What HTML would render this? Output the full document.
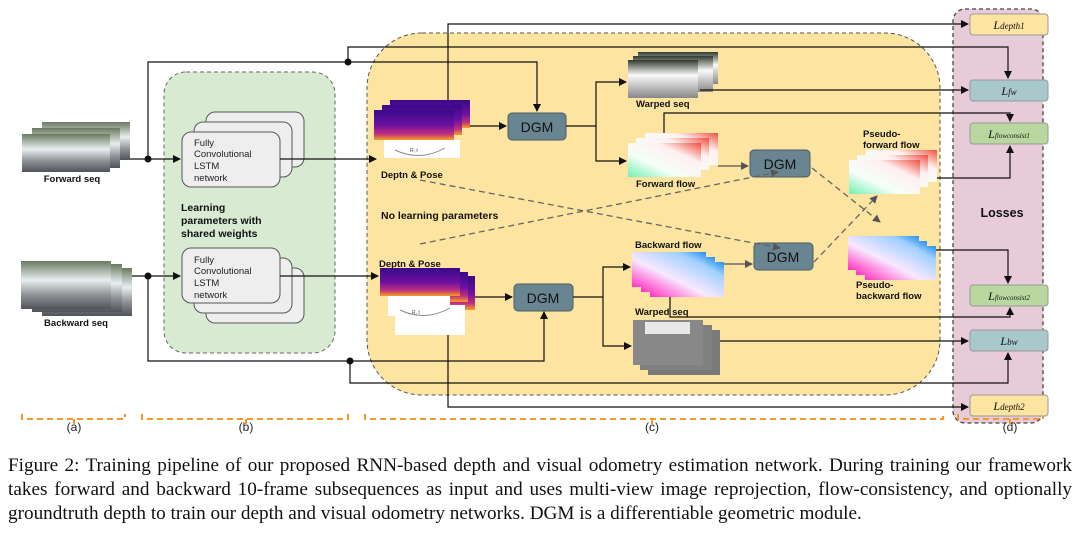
<!DOCTYPE html>
<html><head><meta charset="utf-8"><style>
body{margin:0;background:#fff;width:1080px;height:533px;overflow:hidden}
.cap{position:absolute;left:8px;width:1064px;font-family:"Liberation Serif",serif;font-size:19.2px;color:#111;white-space:nowrap;text-align:justify;text-align-last:justify;line-height:22px}
.cap.l{text-align:left;text-align-last:left}
</style></head><body>
<svg width="1080" height="440" style="position:absolute;left:0;top:0" font-family="Liberation Sans, sans-serif">
<defs>
<marker id="a" markerWidth="8" markerHeight="8" refX="7" refY="4" orient="auto" markerUnits="userSpaceOnUse"><path d="M0,0L8,4L0,8z" fill="#111"/></marker>
<marker id="g" markerWidth="8" markerHeight="8" refX="7" refY="4" orient="auto" markerUnits="userSpaceOnUse"><path d="M0,0L8,4L0,8z" fill="#555"/></marker>
<linearGradient id="dep" x1="0" y1="0" x2="0" y2="1"><stop offset="0" stop-color="#3a0a8a"/><stop offset=".5" stop-color="#6a10a0"/><stop offset=".8" stop-color="#c03080"/><stop offset="1" stop-color="#f8a020"/></linearGradient>
<linearGradient id="ff" x1="0" y1="1" x2="1" y2="0"><stop offset="0" stop-color="#70f0b0"/><stop offset=".35" stop-color="#f4fff8"/><stop offset=".7" stop-color="#fff0f0"/><stop offset="1" stop-color="#f05040"/></linearGradient>
<linearGradient id="bf" x1="0" y1="1" x2="1" y2="0"><stop offset="0" stop-color="#ff30c0"/><stop offset=".4" stop-color="#f8e8ff"/><stop offset=".8" stop-color="#a0d0ff"/><stop offset="1" stop-color="#2090f0"/></linearGradient>
<linearGradient id="rd" x1="0" y1="0" x2="0" y2="1"><stop offset="0" stop-color="#6a7a60"/><stop offset=".4" stop-color="#e8eef0"/><stop offset=".7" stop-color="#909498"/><stop offset="1" stop-color="#505458"/></linearGradient>
<linearGradient id="ws" x1="0" y1="0" x2="0" y2="1"><stop offset="0" stop-color="#303a30"/><stop offset=".4" stop-color="#fafafa"/><stop offset="1" stop-color="#888"/></linearGradient>
</defs>
<rect x="164" y="72" width="171" height="281" rx="22" fill="#d9ead3" stroke="#666" stroke-dasharray="4,3"/>
<rect x="367" y="33" width="573" height="362" rx="55" fill="#fde4a0" stroke="#555" stroke-dasharray="4,3"/>
<rect x="953" y="9" width="90" height="414" rx="12" fill="#e8cbd8" stroke="#444" stroke-dasharray="4,3" stroke-width="1.3"/>
<g stroke="#f39a2a" stroke-width="2" fill="none" stroke-dasharray="6,4">
<path d="M22,414v5h103v-5M74,419v5"/><path d="M142,414v5h206v-5M246,419v5"/><path d="M365,414v5h578v-5M652,419v5"/><path d="M958,414v5h85v-5M1010,419v5"/></g>
<g font-size="12" fill="#222" text-anchor="middle"><text x="74" y="431">(a)</text><text x="246" y="431">(b)</text><text x="652" y="431">(c)</text><text x="1010" y="431">(d)</text></g>
<g><rect x="42" y="122" width="88" height="38" fill="url(#rd)"/><rect x="32" y="128" width="88" height="40" fill="url(#rd)"/><rect x="22" y="134" width="88" height="38" fill="url(#rd)"/></g>
<g><rect x="42" y="268" width="90" height="48" fill="url(#rd)"/><rect x="32" y="264" width="90" height="48" fill="url(#rd)"/><rect x="21" y="261" width="90" height="48" fill="url(#rd)"/></g>
<g font-size="9.5" font-weight="bold" fill="#111" text-anchor="middle"><text x="72" y="182">Forward seq</text><text x="76" y="326">Backward seq</text></g>
<g fill="#eee" stroke="#555" stroke-width="1"><rect x="206" y="112" width="98" height="55" rx="9"/><rect x="194" y="122" width="98" height="55" rx="9"/><rect x="182" y="132" width="98" height="55" rx="9"/></g>
<g fill="#eee" stroke="#555" stroke-width="1"><rect x="206" y="268" width="98" height="55" rx="9"/><rect x="194" y="258" width="98" height="55" rx="9"/><rect x="182" y="248" width="98" height="55" rx="9"/></g>
<g font-size="9.5" fill="#222"><text x="194" y="146">Fully</text><text x="194" y="157">Convolutional</text><text x="194" y="169">LSTM</text><text x="194" y="181">network</text>
<text x="194" y="263">Fully</text><text x="194" y="274">Convolutional</text><text x="194" y="286">LSTM</text><text x="194" y="298">network</text></g>
<g font-size="10.5" font-weight="bold" fill="#111"><text x="181" y="211">Learning</text><text x="181" y="224">parameters with</text><text x="181" y="237">shared weights</text>
<text x="381" y="219">No learning parameters</text></g>
<g><rect x="390" y="100" width="80" height="28" fill="url(#dep)"/><rect x="382" y="105" width="80" height="30" fill="url(#dep)"/><rect x="374" y="110" width="80" height="30" fill="url(#dep)"/>
<rect x="384" y="140" width="76" height="18" fill="#fff"/><path d="M395,150q25,12 50,-2" stroke="#888" fill="none"/><text x="410" y="152" font-size="5" fill="#444">R, t</text></g>
<g><rect x="395" y="276" width="80" height="34" fill="url(#dep)"/><rect x="388" y="272" width="80" height="30" fill="url(#dep)"/><rect x="380" y="268" width="80" height="28" fill="url(#dep)"/>
<rect x="388" y="296" width="62" height="20" fill="#fff"/><rect x="395" y="305" width="70" height="30" fill="#fff"/><path d="M400,310q25,12 50,-2" stroke="#888" fill="none"/><text x="412" y="314" font-size="5" fill="#444">R, t</text></g>
<g font-size="9.5" font-weight="bold" fill="#111"><text x="381" y="178">Deptn &amp; Pose</text><text x="379" y="267">Deptn &amp; Pose</text></g>
<g><rect x="638" y="52" width="80" height="32" fill="url(#ws)"/><rect x="633" y="56" width="80" height="36" fill="url(#ws)"/><rect x="628" y="60" width="70" height="38" fill="url(#ws)"/></g>
<g><rect x="645" y="133" width="73" height="32" fill="url(#ff)"/><rect x="636" y="138" width="73" height="32" fill="url(#ff)"/><rect x="628" y="143" width="73" height="34" fill="url(#ff)"/></g>
<g><rect x="866" y="150" width="71" height="32" fill="url(#ff)"/><rect x="857" y="155" width="71" height="32" fill="url(#ff)"/><rect x="849" y="160" width="71" height="34" fill="url(#ff)"/></g>
<g><rect x="650" y="262" width="74" height="35" fill="url(#bf)"/><rect x="641" y="257" width="74" height="35" fill="url(#bf)"/><rect x="632" y="252" width="74" height="35" fill="url(#bf)"/></g>
<g><rect x="865" y="246" width="71" height="34" fill="url(#bf)"/><rect x="856" y="241" width="71" height="34" fill="url(#bf)"/><rect x="848" y="236" width="71" height="34" fill="url(#bf)"/></g>
<g><rect x="648" y="330" width="72" height="45" fill="#7a7a7a"/><rect x="640" y="325" width="72" height="45" fill="#808080"/><rect x="633" y="320" width="70" height="45" fill="#888"/><rect x="645" y="322" width="45" height="12" fill="#e8e8e8"/></g>
<g font-size="9.5" font-weight="bold" fill="#111"><text x="636" y="107">Warped seq</text><text x="636" y="187">Forward flow</text><text x="863" y="137">Pseudo-</text><text x="863" y="148">forward flow</text>
<text x="635" y="248">Backward flow</text><text x="856" y="288">Pseudo-</text><text x="856" y="299">backward flow</text><text x="635" y="315">Warped seq</text></g>
<g fill="#6a8592" stroke="#4a5d66"><rect x="508" y="113" width="58" height="27" rx="4"/><rect x="750" y="150" width="60" height="27" rx="4"/><rect x="754" y="243" width="59" height="27" rx="4"/><rect x="514" y="284" width="59" height="27" rx="4"/></g>
<g font-size="14" fill="#111" text-anchor="middle"><text x="537" y="132">DGM</text><text x="780" y="169">DGM</text><text x="783" y="262">DGM</text><text x="543" y="303">DGM</text></g>
<g stroke="#999" stroke-width="1"><rect x="970" y="14" width="78" height="21" rx="3" fill="#fde4a0"/><rect x="970" y="80" width="78" height="21" rx="3" fill="#a8c8cc"/><rect x="970" y="123" width="78" height="21" rx="3" fill="#b8d8a0"/><rect x="970" y="285" width="78" height="21" rx="3" fill="#b8d8a0"/><rect x="970" y="330" width="78" height="21" rx="3" fill="#a8c8cc"/><rect x="970" y="395" width="78" height="21" rx="3" fill="#fde4a0"/></g>
<g font-family="Liberation Serif, serif" font-style="italic" fill="#111" text-anchor="middle" font-size="12">
<text x="1009" y="29">L<tspan font-size="9">depth1</tspan></text><text x="1009" y="95">L<tspan font-size="9">fw</tspan></text>
<text x="1009" y="138">L<tspan font-size="7">flowconsist1</tspan></text><text x="1009" y="300">L<tspan font-size="7">flowconsist2</tspan></text>
<text x="1009" y="345">L<tspan font-size="9">bw</tspan></text><text x="1009" y="410">L<tspan font-size="9">depth2</tspan></text></g>
<text x="1002" y="217" font-size="12.5" font-weight="bold" text-anchor="middle" fill="#111">Losses</text>
<g stroke="#111" stroke-width="1.2" fill="none" marker-end="url(#a)">
<path d="M448,100V24H968"/><path d="M348,62V47H1008V78"/><path d="M148,159V62H537V111"/>
<path d="M130,159H180"/><path d="M280,159H376"/><path d="M132,276H180"/><path d="M280,276H378"/>
<path d="M470,126H506"/><path d="M475,297H512"/><path d="M566,126H596V82H626"/><path d="M596,126V161H626"/>
<path d="M573,297H603V267H630"/><path d="M603,297V346H631"/>
<path d="M700,90H968"/><path d="M664,133V113H1010V121"/><path d="M937,178H1010V146"/>
<path d="M936,250H1008V283"/><path d="M670,297V317H1010V308"/><path d="M720,341H968"/>
<path d="M148,276V361H544V312"/><path d="M350,361V383H1008V353"/><path d="M448,335V407H968"/>
</g>
<g fill="#111"><circle cx="148" cy="159" r="3.5"/><circle cx="348" cy="62" r="3.5"/><circle cx="148" cy="276" r="3.5"/><circle cx="350" cy="361" r="3.5"/></g>
<g stroke="#555" stroke-width="1.2" fill="none" marker-end="url(#g)">
<path d="M718,166H748"/><path d="M724,264H752"/></g>
<g stroke="#666" stroke-width="1.3" fill="none" stroke-dasharray="6,4" marker-end="url(#g)">
<path d="M420,180L780,248"/><path d="M420,244L778,172"/><path d="M812,168L880,222"/><path d="M814,262L877,196"/></g>
</svg>
<div class="cap" style="top:455px">Figure 2: Training pipeline of our proposed RNN-based depth and visual odometry estimation network. During training our framework</div>
<div class="cap" style="top:479px">takes forward and backward 10-frame subsequences as input and uses multi-view image reprojection, flow-consistency, and optionally</div>
<div class="cap l" style="top:503px">groundtruth depth to train our depth and visual odometry networks. DGM is a differentiable geometric module.</div>
</body></html>
